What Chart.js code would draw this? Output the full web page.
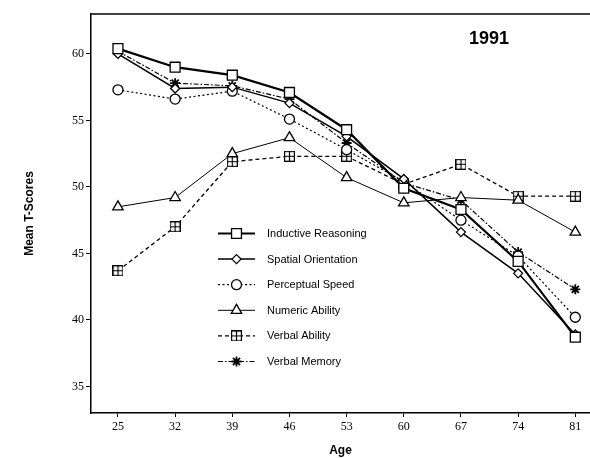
<!DOCTYPE html>
<html>
<head>
<meta charset="utf-8">
<script src="https://cdn.jsdelivr.net/npm/chart.js@4/dist/chart.umd.min.js"></script>
<style>
  html, body { margin: 0; padding: 0; background: #fff; overflow: hidden; }
  #wrap { width: 590px; height: 458px; position: relative; }
</style>
</head>
<body>
<div id="wrap"><canvas id="myChart"></canvas></div>
<script>
// values
var ages = [25, 32, 39, 46, 53, 60, 67, 74, 81];
var yTicks = [35, 40, 45, 50, 55, 60];
var inductive = [60.4, 59.0, 58.4, 57.1, 54.3, 49.9, 48.3, 44.4, 38.7];
var spatial = [60.0, 57.4, 57.5, 56.3, 53.8, 50.6, 46.6, 43.5, 38.9];
var perceptual = [57.3, 56.6, 57.2, 55.1, 52.8, 50.4, 47.5, 44.8, 40.2];
var numeric = [48.5, 49.2, 52.5, 53.7, 50.7, 48.8, 49.2, 49.0, 46.6];
var verbalAbility = [43.7, 47.0, 51.9, 52.3, 52.3, 50.2, 51.7, 49.3, 49.3];
var verbalMemory = [60.2, 57.8, 57.6, 56.6, 53.3, 50.3, 49.0, 45.1, 42.3];
var yearLabel = '1991';

function pts(vals) {
    return vals.map(function (v, i) { return { x: ages[i], y: v }; });
}

// boxed cross marker for Verbal Ability
var boxCross = document.createElement('canvas');
boxCross.width = 11; boxCross.height = 11;
(function () {
    var c = boxCross.getContext('2d');
    c.fillStyle = '#fff';
    c.fillRect(0.5, 0.5, 10, 10);
    c.strokeStyle = '#000';
    c.lineWidth = 1.2;
    c.strokeRect(0.6, 0.6, 9.8, 9.8);
    c.beginPath();
    c.moveTo(5.5, 0.5); c.lineTo(5.5, 10.5);
    c.moveTo(0.5, 5.5); c.lineTo(10.5, 5.5);
    c.stroke();
})();

function series(label, vals, style) {
    var d = {
        label: label,
        data: pts(vals),
        borderColor: '#000',
        backgroundColor: '#fff',
        pointBackgroundColor: '#fff',
        pointBorderColor: '#000',
        pointBorderWidth: 1.3,
        tension: 0,
        fill: false,
        clip: false
    };
    for (var k in style) d[k] = style[k];
    return d;
}

var datasets = [
    series('Inductive Reasoning', inductive, { borderWidth: 2.2, pointStyle: 'rect', pointRadius: 7 }),
    series('Spatial Orientation', spatial, { borderWidth: 1.5, pointStyle: 'rectRot', pointRadius: 4.5 }),
    series('Perceptual Speed', perceptual, { borderWidth: 1.2, borderDash: [2, 2.5], pointStyle: 'circle', pointRadius: 5 }),
    series('Numeric Ability', numeric, { borderWidth: 1, pointStyle: 'triangle', pointRadius: 6 }),
    series('Verbal Ability', verbalAbility, { borderWidth: 1.3, borderDash: [4, 3], pointStyle: boxCross, pointRadius: 5.5 }),
    series('Verbal Memory', verbalMemory, { borderWidth: 1.2, borderDash: [5, 2, 1.5, 2], pointStyle: 'star', pointRadius: 5, pointBorderWidth: 1.8 })
];

// top frame line, year label and the in-plot legend
var extras = {
    id: 'extras',
    afterDraw: function (chart) {
        var ctx = chart.ctx, a = chart.chartArea;
        ctx.save();
        ctx.strokeStyle = '#000';
        ctx.lineWidth = 1.5;
        ctx.beginPath();
        ctx.moveTo(a.left, a.top);
        ctx.lineTo(a.right, a.top);
        ctx.stroke();

        ctx.fillStyle = '#000';
        ctx.font = 'bold 18px "Liberation Sans", Arial, sans-serif';
        ctx.textAlign = 'center';
        ctx.textBaseline = 'middle';
        ctx.fillText(yearLabel, 489, 39);

        var x0 = 218, x1 = 255, xm = 236.5, tx = 267, y = 233.5, step = 25.6;
        ctx.font = '11px "Liberation Sans", Arial, sans-serif';
        ctx.textAlign = 'left';
        chart.data.datasets.forEach(function (ds) {
            ctx.save();
            ctx.strokeStyle = '#000';
            ctx.lineWidth = ds.borderWidth;
            ctx.setLineDash(ds.borderDash || []);
            ctx.beginPath();
            ctx.moveTo(x0, y); ctx.lineTo(x1, y);
            ctx.stroke();
            ctx.setLineDash([]);
            ctx.fillStyle = '#fff';
            ctx.lineWidth = ds.pointBorderWidth;
            if (Chart.helpers && Chart.helpers.drawPoint) {
                Chart.helpers.drawPoint(ctx, {
                    pointStyle: ds.pointStyle, radius: ds.pointRadius,
                    rotation: 0, borderWidth: ds.pointBorderWidth
                }, xm, y);
            }
            ctx.restore();
            ctx.fillStyle = '#000';
            ctx.fillText(ds.label, tx, y + 0.5);
            y += step;
        });
        ctx.restore();
    }
};

var ctx = document.getElementById('myChart').getContext('2d');
var myChart = new Chart(ctx, {
    type: 'line',
    data: { datasets: datasets },
    plugins: [extras],
    options: {
        responsive: true,
        maintainAspectRatio: false,
        animation: false,
        layout: { autoPadding: false, padding: { top: 14, right: 0, left: 0, bottom: 0 } },
        plugins: { legend: { display: false }, tooltip: { enabled: false } },
        scales: {
            x: {
                type: 'linear',
                min: 21.7,
                max: 82.8,
                afterBuildTicks: function (s) { s.ticks = ages.map(function (v) { return { value: v }; }); },
                afterFit: function (s) { s.height = 45; s.paddingLeft = 0; s.paddingRight = 0; },
                grid: { drawOnChartArea: false, tickLength: 4, color: '#000', lineWidth: 1 },
                border: { color: '#000', width: 1.5 },
                ticks: {
                    color: '#000', padding: 3, maxRotation: 0,
                    font: { family: '"Liberation Serif", "Times New Roman", serif', size: 12 }
                },
                title: {
                    display: true, text: 'Age', color: '#000',
                    padding: { top: 0, bottom: 0 },
                    font: { family: '"Liberation Sans", Arial, sans-serif', size: 12, weight: 'bold' }
                }
            },
            y: {
                min: 33,
                max: 63,
                afterBuildTicks: function (s) { s.ticks = yTicks.map(function (v) { return { value: v }; }); },
                afterFit: function (s) { s.width = 91; s.paddingTop = 0; s.paddingBottom = 0; },
                grid: { drawOnChartArea: false, tickLength: 5, color: '#000', lineWidth: 1 },
                border: { color: '#000', width: 1.5 },
                ticks: {
                    color: '#000', padding: 2,
                    font: { family: '"Liberation Serif", "Times New Roman", serif', size: 12 }
                },
                title: {
                    display: true, text: 'Mean T-Scores', color: '#000',
                    padding: { top: 22, bottom: 0 },
                    font: { family: '"Liberation Sans", Arial, sans-serif', size: 12, weight: 'bold' }
                }
            }
        }
    }
});
</script>
</body>
</html>
